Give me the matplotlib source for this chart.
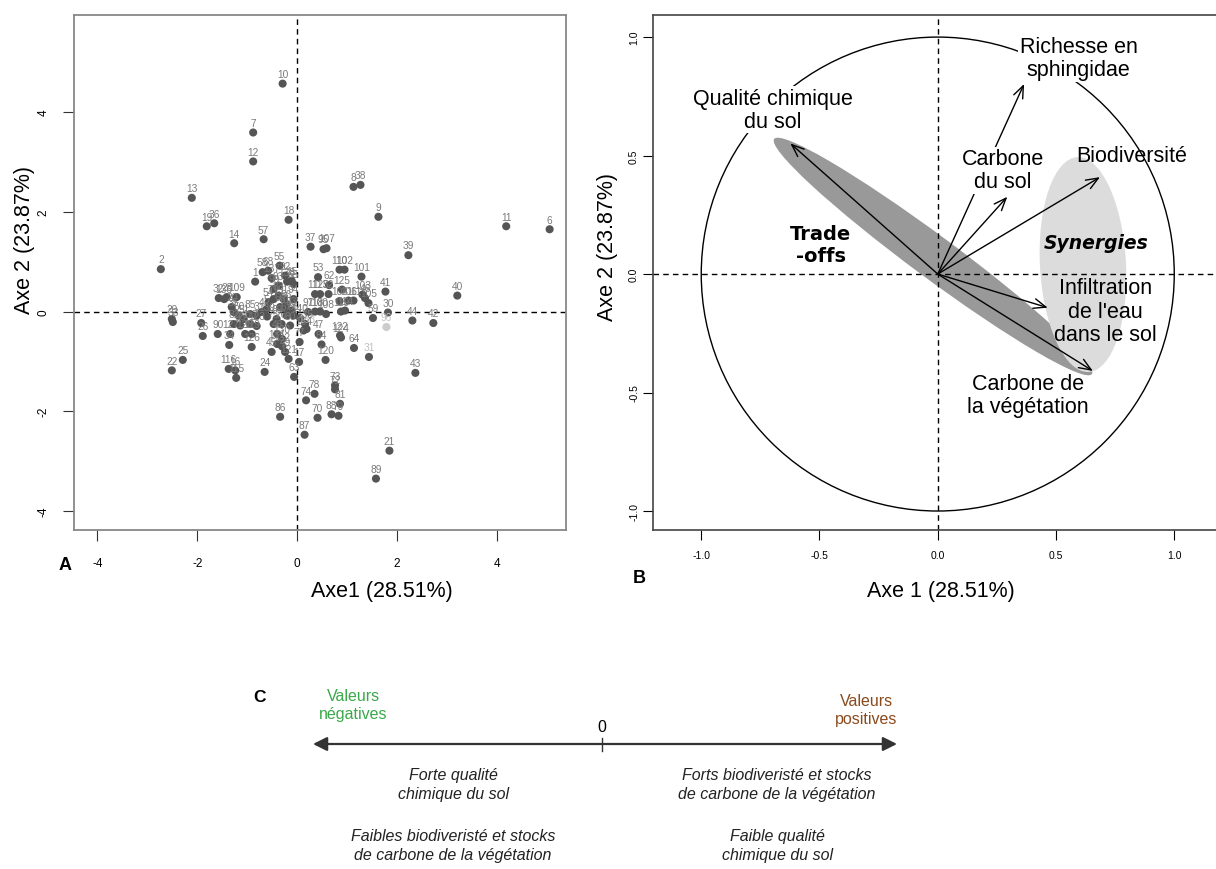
import matplotlib
matplotlib.use("Agg")
import matplotlib.pyplot as plt
from matplotlib.patches import Ellipse, Circle

plt.rcParams['font.family'] = ['Liberation Sans', 'DejaVu Sans']
plt.rcParams['axes.unicode_minus'] = False

W, H = 1216, 870

# panel A : individuals on the first PCA plane
pt_ids = [1, 2, 3, 4, 5, 6, 7, 8, 9, 10,
          11, 12, 13, 14, 15, 16, 17, 18, 19, 20,
          21, 22, 23, 24, 25, 26, 27, 28, 29, 30,
          31, 32, 33, 34, 35, 36, 37, 38, 39, 40,
          41, 42, 43, 44, 45, 46, 47, 48, 49, 50,
          51, 52, 53, 54, 55, 56, 57, 58, 59, 60,
          61, 62, 63, 64, 65, 66, 67, 68, 69, 70,
          71, 72, 73, 74, 75, 76, 77, 78, 79, 80,
          81, 82, 83, 84, 85, 86, 87, 88, 89, 90,
          91, 92, 93, 94, 95, 96, 97, 98, 99, 100,
          101, 102, 103, 104, 105, 106, 107, 108, 109, 110,
          111, 112, 113, 114, 115, 116, 117, 118, 119, 120,
          121, 122, 123, 124, 125, 126, 127, 128, 129, 130,
          131, 132, 133, 134, 135, 136, 137, 138, 139, 140]
pt_x = [-0.84, -2.73, -0.81, -0.71, -0.61, 5.06, -0.88, 1.13, 1.63, -0.29,
        4.19, -0.88, -2.11, -1.26, -0.11, -1.24, 0.04, -0.17, -1.81, -1.31,
        1.85, -2.51, -0.11, -0.65, -2.29, -1.89, -1.92, -1.41, -2.51, 1.82,
        1.44, -1.57, -2.49, -1.36, -1.27, -1.66, 0.27, 1.27, 2.23, 3.21,
        1.77, 2.73, 2.37, 2.31, -0.51, 1.36, 0.43, -0.40, -0.24, -1.17,
        -1.07, 0.63, 0.42, -0.57, -0.35, -0.21, -0.67, -0.69, 1.52, -0.34,
        -0.24, 0.64, -0.06, 1.14, -0.07, -0.07, -0.21, -0.58, -0.41, 0.41,
        -0.47, 0.76, 0.76, 0.18, -0.47, -0.31, 0.05, 0.35, 0.83, -0.14,
        0.86, -1.27, -0.37, 0.49, -0.94, -0.34, 0.15, 0.69, 1.58, -1.59,
        -0.27, -0.24, -0.37, -0.07, 0.53, 1.79, 0.22, -1.14, -0.47, 0.46,
        1.29, 0.95, 1.31, 0.85, 1.43, 1.03, 0.59, 0.58, -1.21, 0.85,
        1.13, 0.36, 0.46, 0.96, -1.22, -1.37, -0.94, 0.36, 0.88, 0.57,
        -0.17, 0.86, -0.81, 0.88, 0.90, -0.91, -1.34, -1.04, -0.91, -0.30,
        -0.40, -0.30, 0.19, 0.13, 0.16, -1.46, -0.51, -0.20, -0.60, 0.06]
pt_y = [0.60, 0.85, -0.08, -0.01, 0.05, 1.65, 3.59, 2.50, 1.90, 4.57,
        1.71, 3.01, 2.28, 1.37, 0.62, -1.18, -1.01, 1.84, 1.71, 0.09,
        -2.79, -1.18, 0.02, -1.21, -0.97, -0.49, -0.23, 0.29, -0.15, -0.02,
        -0.91, 0.27, -0.21, -0.67, -0.01, 1.77, 1.30, 2.54, 1.13, 0.32,
        0.40, -0.23, -1.23, -0.18, -0.81, 0.27, -0.45, -0.45, -0.81, -0.08,
        -0.15, 0.35, 0.69, 0.19, 0.92, 0.15, 1.45, 0.79, -0.13, 0.09,
        0.05, 0.53, -1.31, -0.73, 0.55, -0.08, -0.08, 0.82, -0.15, -2.13,
        0.25, -1.56, -1.48, -1.78, -0.25, -0.25, -0.61, -1.65, -2.09, -0.28,
        -1.85, -0.25, 0.32, -0.66, -0.05, -2.11, -2.47, -2.06, -3.35, -0.45,
        0.25, 0.72, 0.52, 0.25, 1.25, -0.31, -0.01, -0.28, 0.45, 0.00,
        0.70, 0.84, 0.34, 0.21, 0.17, 0.22, 1.27, -0.05, 0.29, 0.84,
        0.22, 0.35, 0.35, 0.02, -1.33, -1.15, -0.25, 0.00, 0.00, -0.97,
        -0.95, -0.48, -0.29, -0.52, 0.44, -0.71, -0.45, -0.45, -0.45, -0.55,
        -0.65, -0.70, -0.35, -0.38, -0.25, 0.25, 0.67, 0.60, -0.10, -0.13]
faded_ids = [31, 96, 133]

# panel B : correlation circle
var_names = ["Qualité chimique\ndu sol", "Richesse en\nsphingidae", "Carbone\ndu sol",
             "Biodiversité", "Infiltration\nde l'eau\ndans le sol", "Carbone de\nla végétation"]
var_x = [-0.623, 0.365, 0.294, 0.686, 0.465, 0.656]
var_y = [0.551, 0.802, 0.326, 0.409, -0.142, -0.409]

fig = plt.figure(figsize=(W / 100, H / 100), dpi=100)


def box(left, top, right, bottom):
    return [left / W, 1 - bottom / H, (right - left) / W, (bottom - top) / H]


dash = (0, (4, 3))

# ---------- A
axA = fig.add_axes(box(73.5, 15.8, 565.6, 530.5))
cols = ['#cccccc' if i == 96 else '#555555' for i in pt_ids]
axA.scatter(pt_x, pt_y, s=34, c=cols, linewidths=0, zorder=3)
for i, x, y in zip(pt_ids, pt_x, pt_y):
    axA.annotate(str(i), (x, y), xytext=(0, 7), textcoords='offset points',
                 ha='center', va='center', fontsize=7.3,
                 color='#c0c0c0' if i in faded_ids else '#7a7a7a', zorder=4)
axA.axhline(0, color='black', lw=1, ls=dash, zorder=2)
axA.axvline(0, color='black', lw=1, ls=dash, zorder=2)
axA.set_xlim(-4.48, 5.38)
axA.set_ylim(-4.37, 5.95)
axA.set_xticks([-4, -2, 0, 2, 4])
axA.set_yticks([-4, -2, 0, 2, 4])
axA.tick_params(axis='x', direction='out', length=8, pad=12, labelsize=8.5, color='#333333')
axA.tick_params(axis='y', direction='out', length=8, pad=9, labelsize=8.5, color='#333333',
                labelrotation=90)
for lab in axA.get_yticklabels():
    lab.set_va('center')
for s in axA.spines.values():
    s.set_color('#888888')
    s.set_linewidth(1.3)

# ---------- B
axB = fig.add_axes(box(653, 15.8, 1222.5, 530.5))
axB.add_patch(Ellipse((-0.02, 0.074), 1.67, 0.18, angle=-36.45,
                      facecolor='#999999', edgecolor='none', zorder=1))
axB.add_patch(Ellipse((0.614, 0.04), 0.364, 0.908, angle=3,
                      facecolor='#dcdcdc', edgecolor='none', zorder=1.5))
axB.axhline(0, color='black', lw=1, ls=dash, zorder=2)
axB.axvline(0, color='black', lw=1, ls=dash, zorder=2)
axB.add_patch(Circle((0, 0), 1.0, fill=False, edgecolor='black', lw=1, zorder=2))
for vx, vy in zip(var_x, var_y):
    axB.annotate('', xy=(vx, vy), xytext=(0, 0),
                 arrowprops=dict(arrowstyle='->,head_length=0.55,head_width=0.22',
                                 lw=1, color='black', shrinkA=0, shrinkB=0,
                                 mutation_scale=16), zorder=3)

lab_pos = [(-0.698, 0.693), (0.595, 0.911), (0.274, 0.439),
           (0.819, 0.501), (0.710, -0.157), (0.382, -0.510)]
lab_bg = [True, True, True, False, False, False]
for name, (lx, ly), bg in zip(var_names, lab_pos, lab_bg):
    axB.text(lx, ly, name, ha='center', va='center', fontsize=15.5, linespacing=1.15,
             zorder=5, bbox=dict(fc='white', ec='none', pad=1) if bg else None)
axB.text(-0.495, 0.125, "Trade\n-offs", ha='center', va='center', fontsize=14,
         fontweight='bold', family='DejaVu Sans', linespacing=1.2, zorder=5)
axB.text(0.668, 0.134, "Synergies", ha='center', va='center', fontsize=13.5,
         fontweight='bold', fontstyle='italic', family='DejaVu Sans', zorder=5)

axB.set_xlim(-1.204, 1.204)
axB.set_ylim(-1.078, 1.094)
axB.set_xticks([-1.0, -0.5, 0.0, 0.5, 1.0])
axB.set_xticklabels(['-1.0', '-0.5', '0.0', '0.5', '1.0'])
axB.set_yticks([-1.0, -0.5, 0.0, 0.5, 1.0])
axB.set_yticklabels(['-1.0', '-0.5', '0.0', '0.5', '1.0'])
axB.tick_params(axis='x', direction='out', length=7, pad=8, labelsize=7.5)
axB.tick_params(axis='y', direction='out', length=7, pad=3, labelsize=7.5, labelrotation=90)
for lab in axB.get_yticklabels():
    lab.set_va('center')
for s in axB.spines.values():
    s.set_color('#444444')
    s.set_linewidth(1.2)

# ---------- overlay in pixel coordinates (axis titles, panel letters, panel C)
axC = fig.add_axes([0, 0, 1, 1])
axC.set_xlim(0, W)
axC.set_ylim(H, 0)
axC.axis('off')
axC.patch.set_visible(False)

axC.text(382, 592, "Axe1 (28.51%)", ha='center', va='center', fontsize=15.5)
axC.text(25, 240, "Axe 2 (23.87%)", ha='center', va='center', fontsize=15.5, rotation=90)
axC.text(65, 566, "A", ha='center', va='center', fontsize=13, fontweight='bold')
axC.text(941, 592, "Axe 1 (28.51%)", ha='center', va='center', fontsize=15.5)
axC.text(608, 247, "Axe 2 (23.87%)", ha='center', va='center', fontsize=15.5, rotation=90)
axC.text(639, 579, "B", ha='center', va='center', fontsize=13, fontweight='bold')

axC.text(260, 698, "C", ha='center', va='center', fontsize=12.5, fontweight='bold')
axC.text(353, 706, "Valeurs\nnégatives", ha='center', va='center', fontsize=11.5,
         color='#3aa84a', linespacing=1.25)
axC.text(866, 711, "Valeurs\npositives", ha='center', va='center', fontsize=11.5,
         color='#8a4a1c', linespacing=1.25)
axC.text(602, 728, "0", ha='center', va='center', fontsize=11.5)
for end in (313, 897):
    axC.annotate('', xy=(end, 745), xytext=(602, 745),
                 arrowprops=dict(arrowstyle='-|>,head_length=0.6,head_width=0.3',
                                 lw=1.6, color='#333333', shrinkA=0, shrinkB=0,
                                 mutation_scale=14))
axC.plot([602, 602], [739, 752], color='#333333', lw=1)

it = dict(ha='center', va='center', fontsize=11.5, fontstyle='italic', color='#222222',
          linespacing=1.3)
axC.text(453, 785, "Forte qualité\nchimique du sol", **it)
axC.text(453, 846, "Faibles biodiveristé et stocks\nde carbone de la végétation", **it)
axC.text(777, 785, "Forts biodiveristé et stocks\nde carbone de la végétation", **it)
axC.text(777, 846, "Faible qualité\nchimique du sol", **it)

fig.savefig("out.png", dpi=100)
